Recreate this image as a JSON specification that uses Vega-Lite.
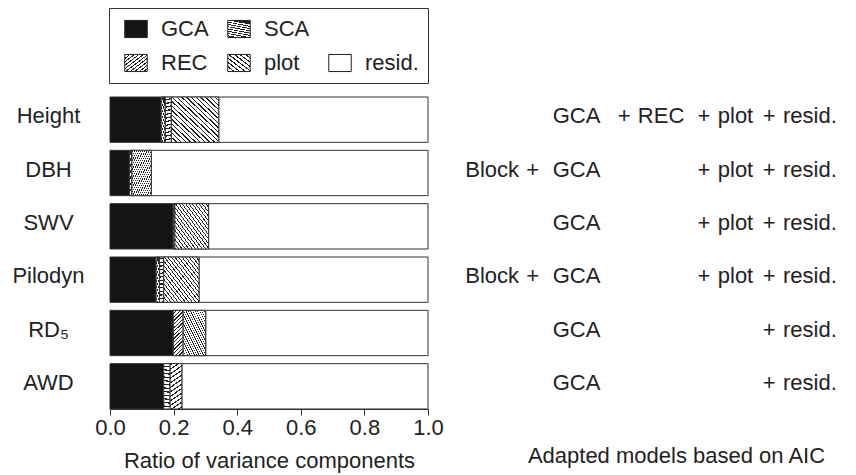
{
  "$schema": "https://vega.github.io/schema/vega-lite/v6.json",
  "padding": {"left": 11, "top": 7, "right": 5, "bottom": 5},
  "autosize": {"type": "pad"},
  "config": {
    "font": "Liberation Sans",
    "view": {"stroke": null},
    "axis": {"labelFontSize": 22, "titleFontSize": 22, "titleFontWeight": "normal", "labelColor": "#222", "titleColor": "#222", "domainColor": "#333", "tickColor": "#333", "grid": false}
  },
  "params": [
    {"name": "gSCAleg", "value": {"gradient": "linear", "x1": 0.25, "y1": 0, "x2": 0, "y2": 1, "stops": [
      {"offset": 0, "color": "#222"}, {"offset": 0.05, "color": "#222"}, {"offset": 0.05, "color": "#fff"}, {"offset": 0.125, "color": "#fff"},
      {"offset": 0.125, "color": "#222"}, {"offset": 0.175, "color": "#222"}, {"offset": 0.175, "color": "#fff"}, {"offset": 0.25, "color": "#fff"},
      {"offset": 0.25, "color": "#222"}, {"offset": 0.3, "color": "#222"}, {"offset": 0.3, "color": "#fff"}, {"offset": 0.375, "color": "#fff"},
      {"offset": 0.375, "color": "#222"}, {"offset": 0.425, "color": "#222"}, {"offset": 0.425, "color": "#fff"}, {"offset": 0.5, "color": "#fff"},
      {"offset": 0.5, "color": "#222"}, {"offset": 0.55, "color": "#222"}, {"offset": 0.55, "color": "#fff"}, {"offset": 0.625, "color": "#fff"},
      {"offset": 0.625, "color": "#222"}, {"offset": 0.675, "color": "#222"}, {"offset": 0.675, "color": "#fff"}, {"offset": 0.75, "color": "#fff"},
      {"offset": 0.75, "color": "#222"}, {"offset": 0.8, "color": "#222"}, {"offset": 0.8, "color": "#fff"}, {"offset": 0.875, "color": "#fff"},
      {"offset": 0.875, "color": "#222"}, {"offset": 0.925, "color": "#222"}, {"offset": 0.925, "color": "#fff"}, {"offset": 1, "color": "#fff"}
    ]}},
    {"name": "gRECleg", "value": {"gradient": "linear", "x1": 0, "y1": 0, "x2": 1, "y2": 1, "stops": [
      {"offset": 0, "color": "#222"}, {"offset": 0.035, "color": "#222"}, {"offset": 0.035, "color": "#fff"}, {"offset": 0.1, "color": "#fff"},
      {"offset": 0.1, "color": "#222"}, {"offset": 0.135, "color": "#222"}, {"offset": 0.135, "color": "#fff"}, {"offset": 0.2, "color": "#fff"},
      {"offset": 0.2, "color": "#222"}, {"offset": 0.235, "color": "#222"}, {"offset": 0.235, "color": "#fff"}, {"offset": 0.3, "color": "#fff"},
      {"offset": 0.3, "color": "#222"}, {"offset": 0.335, "color": "#222"}, {"offset": 0.335, "color": "#fff"}, {"offset": 0.4, "color": "#fff"},
      {"offset": 0.4, "color": "#222"}, {"offset": 0.435, "color": "#222"}, {"offset": 0.435, "color": "#fff"}, {"offset": 0.5, "color": "#fff"},
      {"offset": 0.5, "color": "#222"}, {"offset": 0.535, "color": "#222"}, {"offset": 0.535, "color": "#fff"}, {"offset": 0.6, "color": "#fff"},
      {"offset": 0.6, "color": "#222"}, {"offset": 0.635, "color": "#222"}, {"offset": 0.635, "color": "#fff"}, {"offset": 0.7, "color": "#fff"},
      {"offset": 0.7, "color": "#222"}, {"offset": 0.735, "color": "#222"}, {"offset": 0.735, "color": "#fff"}, {"offset": 0.8, "color": "#fff"},
      {"offset": 0.8, "color": "#222"}, {"offset": 0.835, "color": "#222"}, {"offset": 0.835, "color": "#fff"}, {"offset": 0.9, "color": "#fff"},
      {"offset": 0.9, "color": "#222"}, {"offset": 0.935, "color": "#222"}, {"offset": 0.935, "color": "#fff"}, {"offset": 1, "color": "#fff"}
    ]}},
    {"name": "gPlotLeg", "value": {"gradient": "linear", "x1": 0, "y1": 1, "x2": 1, "y2": 0, "stops": [
      {"offset": 0, "color": "#222"}, {"offset": 0.04, "color": "#222"}, {"offset": 0.04, "color": "#fff"}, {"offset": 0.125, "color": "#fff"},
      {"offset": 0.125, "color": "#222"}, {"offset": 0.165, "color": "#222"}, {"offset": 0.165, "color": "#fff"}, {"offset": 0.25, "color": "#fff"},
      {"offset": 0.25, "color": "#222"}, {"offset": 0.29, "color": "#222"}, {"offset": 0.29, "color": "#fff"}, {"offset": 0.375, "color": "#fff"},
      {"offset": 0.375, "color": "#222"}, {"offset": 0.415, "color": "#222"}, {"offset": 0.415, "color": "#fff"}, {"offset": 0.5, "color": "#fff"},
      {"offset": 0.5, "color": "#222"}, {"offset": 0.54, "color": "#222"}, {"offset": 0.54, "color": "#fff"}, {"offset": 0.625, "color": "#fff"},
      {"offset": 0.625, "color": "#222"}, {"offset": 0.665, "color": "#222"}, {"offset": 0.665, "color": "#fff"}, {"offset": 0.75, "color": "#fff"},
      {"offset": 0.75, "color": "#222"}, {"offset": 0.79, "color": "#222"}, {"offset": 0.79, "color": "#fff"}, {"offset": 0.875, "color": "#fff"},
      {"offset": 0.875, "color": "#222"}, {"offset": 0.915, "color": "#222"}, {"offset": 0.915, "color": "#fff"}, {"offset": 1, "color": "#fff"}
    ]}}
  ],
  "datasets": {
    "bars": [
      {"trait": "Height", "comp": "GCA", "ratio": 0.161},
      {"trait": "Height", "comp": "SCA", "ratio": 0.013},
      {"trait": "Height", "comp": "REC", "ratio": 0.019},
      {"trait": "Height", "comp": "plot", "ratio": 0.149},
      {"trait": "Height", "comp": "resid.", "ratio": 0.658},
      {"trait": "DBH", "comp": "GCA", "ratio": 0.061},
      {"trait": "DBH", "comp": "SCA", "ratio": 0.008},
      {"trait": "DBH", "comp": "plot", "ratio": 0.061},
      {"trait": "DBH", "comp": "resid.", "ratio": 0.87},
      {"trait": "SWV", "comp": "GCA", "ratio": 0.199},
      {"trait": "SWV", "comp": "SCA", "ratio": 0.005},
      {"trait": "SWV", "comp": "plot", "ratio": 0.106},
      {"trait": "SWV", "comp": "resid.", "ratio": 0.69},
      {"trait": "Pilodyn", "comp": "GCA", "ratio": 0.145},
      {"trait": "Pilodyn", "comp": "SCA", "ratio": 0.011},
      {"trait": "Pilodyn", "comp": "REC", "ratio": 0.013},
      {"trait": "Pilodyn", "comp": "plot", "ratio": 0.111},
      {"trait": "Pilodyn", "comp": "resid.", "ratio": 0.72},
      {"trait": "RD₅", "comp": "GCA", "ratio": 0.199},
      {"trait": "RD₅", "comp": "REC", "ratio": 0.031},
      {"trait": "RD₅", "comp": "plot", "ratio": 0.071},
      {"trait": "RD₅", "comp": "resid.", "ratio": 0.699},
      {"trait": "AWD", "comp": "GCA", "ratio": 0.169},
      {"trait": "AWD", "comp": "REC", "ratio": 0.02},
      {"trait": "AWD", "comp": "plot", "ratio": 0.037},
      {"trait": "AWD", "comp": "resid.", "ratio": 0.774}
    ],
    "models": [
      {"trait": "Height", "term": "GCA", "label": "GCA"},
      {"trait": "Height", "term": "REC", "label": "+\u2004REC"},
      {"trait": "Height", "term": "plot", "label": "+\u2004plot"},
      {"trait": "Height", "term": "resid.", "label": "+\u2004resid."},
      {"trait": "DBH", "term": "Block", "label": "Block\u2004+"},
      {"trait": "DBH", "term": "GCA", "label": "GCA"},
      {"trait": "DBH", "term": "plot", "label": "+\u2004plot"},
      {"trait": "DBH", "term": "resid.", "label": "+\u2004resid."},
      {"trait": "SWV", "term": "GCA", "label": "GCA"},
      {"trait": "SWV", "term": "plot", "label": "+\u2004plot"},
      {"trait": "SWV", "term": "resid.", "label": "+\u2004resid."},
      {"trait": "Pilodyn", "term": "Block", "label": "Block\u2004+"},
      {"trait": "Pilodyn", "term": "GCA", "label": "GCA"},
      {"trait": "Pilodyn", "term": "plot", "label": "+\u2004plot"},
      {"trait": "Pilodyn", "term": "resid.", "label": "+\u2004resid."},
      {"trait": "RD₅", "term": "GCA", "label": "GCA"},
      {"trait": "RD₅", "term": "resid.", "label": "+\u2004resid."},
      {"trait": "AWD", "term": "GCA", "label": "GCA"},
      {"trait": "AWD", "term": "resid.", "label": "+\u2004resid."}
    ]
  },
  "bounds": "flush",
  "spacing": 37,
  "hconcat": [
    {
      "width": 318,
      "height": 312,
      "data": {"name": "bars"},
      "transform": [{"stack": "ratio", "groupby": ["trait"], "as": ["x0", "x1"]}],
      "encoding": {
        "y": {
          "field": "trait", "type": "nominal",
          "sort": ["Height", "DBH", "SWV", "Pilodyn", "RD₅", "AWD"],
          "scale": {"paddingInner": 0.15, "paddingOuter": 0},
          "axis": {"domain": false, "ticks": false, "tickSize": 0, "labelAlign": "center", "labelPadding": 62, "labelOffset": -3.5, "title": null}
        },
        "x": {
          "field": "x0", "type": "quantitative",
          "scale": {"domain": [0, 1], "nice": false},
          "axis": {"values": [0, 0.2, 0.4, 0.6, 0.8, 1], "format": ".1f", "labelFlush": false, "tickSize": 6, "titlePadding": 12, "title": "Ratio of variance components"}
        },
        "x2": {"field": "x1"}
      },
      "layer": [
        {
          "mark": {"type": "bar", "stroke": "#333", "strokeWidth": 1},
          "encoding": {
            "fill": {
              "field": "comp", "type": "nominal",
              "scale": {
                "domain": ["GCA", "SCA", " ", "REC", "plot", "resid."],
                "range": ["#141414", {"expr": "gSCAleg"}, "transparent", {"expr": "gRECleg"}, {"expr": "gPlotLeg"}, "#ffffff"]
              },
              "legend": {
                "title": null, "orient": "none", "legendX": -1, "legendY": -89,
                "columns": 3, "direction": "horizontal", "padding": 9,
                "symbolOffset": 6, "symbolType": "M-1,-0.76H1V0.76H-1Z", "symbolSize": 506,
                "symbolStrokeColor": "#222", "symbolStrokeWidth": 1,
                "labelFontSize": 22, "labelOffset": 13, "labelColor": "#222",
                "columnPadding": 12, "rowPadding": 11,
                "strokeColor": "#333", "fillColor": "white",
                "encode": {"symbols": {"update": {
                  "stroke": {"value": "#222"},
                  "strokeWidth": {"value": 1},
                  "strokeOpacity": {"signal": "datum.value === ' ' ? 0 : 1"}
                }}}
              }
            }
          }
        },
        {
          "transform": [{"filter": "datum.comp === 'SCA'"}],
          "mark": {"type": "bar", "stroke": "#333", "strokeWidth": 1, "fill": {"gradient": "linear", "x1": 0.25, "y1": 0, "x2": 0, "y2": 1, "stops": [
            {"offset": 0, "color": "#222"}, {"offset": 0.05, "color": "#222"}, {"offset": 0.05, "color": "#fff"}, {"offset": 0.125, "color": "#fff"},
            {"offset": 0.125, "color": "#222"}, {"offset": 0.175, "color": "#222"}, {"offset": 0.175, "color": "#fff"}, {"offset": 0.25, "color": "#fff"},
            {"offset": 0.25, "color": "#222"}, {"offset": 0.3, "color": "#222"}, {"offset": 0.3, "color": "#fff"}, {"offset": 0.375, "color": "#fff"},
            {"offset": 0.375, "color": "#222"}, {"offset": 0.425, "color": "#222"}, {"offset": 0.425, "color": "#fff"}, {"offset": 0.5, "color": "#fff"},
            {"offset": 0.5, "color": "#222"}, {"offset": 0.55, "color": "#222"}, {"offset": 0.55, "color": "#fff"}, {"offset": 0.625, "color": "#fff"},
            {"offset": 0.625, "color": "#222"}, {"offset": 0.675, "color": "#222"}, {"offset": 0.675, "color": "#fff"}, {"offset": 0.75, "color": "#fff"},
            {"offset": 0.75, "color": "#222"}, {"offset": 0.8, "color": "#222"}, {"offset": 0.8, "color": "#fff"}, {"offset": 0.875, "color": "#fff"},
            {"offset": 0.875, "color": "#222"}, {"offset": 0.925, "color": "#222"}, {"offset": 0.925, "color": "#fff"}, {"offset": 1, "color": "#fff"}
          ]}}
        },
        {
          "transform": [{"filter": "datum.comp === 'REC'"}],
          "mark": {"type": "bar", "stroke": "#333", "strokeWidth": 1, "fill": {"gradient": "linear", "x1": 0, "y1": 0, "x2": 1, "y2": 1, "stops": [
            {"offset": 0, "color": "#222"}, {"offset": 0.014, "color": "#222"}, {"offset": 0.014, "color": "#fff"}, {"offset": 0.04, "color": "#fff"},
            {"offset": 0.04, "color": "#222"}, {"offset": 0.054, "color": "#222"}, {"offset": 0.054, "color": "#fff"}, {"offset": 0.08, "color": "#fff"},
            {"offset": 0.08, "color": "#222"}, {"offset": 0.094, "color": "#222"}, {"offset": 0.094, "color": "#fff"}, {"offset": 0.12, "color": "#fff"},
            {"offset": 0.12, "color": "#222"}, {"offset": 0.134, "color": "#222"}, {"offset": 0.134, "color": "#fff"}, {"offset": 0.16, "color": "#fff"},
            {"offset": 0.16, "color": "#222"}, {"offset": 0.174, "color": "#222"}, {"offset": 0.174, "color": "#fff"}, {"offset": 0.2, "color": "#fff"},
            {"offset": 0.2, "color": "#222"}, {"offset": 0.214, "color": "#222"}, {"offset": 0.214, "color": "#fff"}, {"offset": 0.24, "color": "#fff"},
            {"offset": 0.24, "color": "#222"}, {"offset": 0.254, "color": "#222"}, {"offset": 0.254, "color": "#fff"}, {"offset": 0.28, "color": "#fff"},
            {"offset": 0.28, "color": "#222"}, {"offset": 0.294, "color": "#222"}, {"offset": 0.294, "color": "#fff"}, {"offset": 0.32, "color": "#fff"},
            {"offset": 0.32, "color": "#222"}, {"offset": 0.334, "color": "#222"}, {"offset": 0.334, "color": "#fff"}, {"offset": 0.36, "color": "#fff"},
            {"offset": 0.36, "color": "#222"}, {"offset": 0.374, "color": "#222"}, {"offset": 0.374, "color": "#fff"}, {"offset": 0.4, "color": "#fff"},
            {"offset": 0.4, "color": "#222"}, {"offset": 0.414, "color": "#222"}, {"offset": 0.414, "color": "#fff"}, {"offset": 0.44, "color": "#fff"},
            {"offset": 0.44, "color": "#222"}, {"offset": 0.454, "color": "#222"}, {"offset": 0.454, "color": "#fff"}, {"offset": 0.48, "color": "#fff"},
            {"offset": 0.48, "color": "#222"}, {"offset": 0.494, "color": "#222"}, {"offset": 0.494, "color": "#fff"}, {"offset": 0.52, "color": "#fff"},
            {"offset": 0.52, "color": "#222"}, {"offset": 0.534, "color": "#222"}, {"offset": 0.534, "color": "#fff"}, {"offset": 0.56, "color": "#fff"},
            {"offset": 0.56, "color": "#222"}, {"offset": 0.574, "color": "#222"}, {"offset": 0.574, "color": "#fff"}, {"offset": 0.6, "color": "#fff"},
            {"offset": 0.6, "color": "#222"}, {"offset": 0.614, "color": "#222"}, {"offset": 0.614, "color": "#fff"}, {"offset": 0.64, "color": "#fff"},
            {"offset": 0.64, "color": "#222"}, {"offset": 0.654, "color": "#222"}, {"offset": 0.654, "color": "#fff"}, {"offset": 0.68, "color": "#fff"},
            {"offset": 0.68, "color": "#222"}, {"offset": 0.694, "color": "#222"}, {"offset": 0.694, "color": "#fff"}, {"offset": 0.72, "color": "#fff"},
            {"offset": 0.72, "color": "#222"}, {"offset": 0.734, "color": "#222"}, {"offset": 0.734, "color": "#fff"}, {"offset": 0.76, "color": "#fff"},
            {"offset": 0.76, "color": "#222"}, {"offset": 0.774, "color": "#222"}, {"offset": 0.774, "color": "#fff"}, {"offset": 0.8, "color": "#fff"},
            {"offset": 0.8, "color": "#222"}, {"offset": 0.814, "color": "#222"}, {"offset": 0.814, "color": "#fff"}, {"offset": 0.84, "color": "#fff"},
            {"offset": 0.84, "color": "#222"}, {"offset": 0.854, "color": "#222"}, {"offset": 0.854, "color": "#fff"}, {"offset": 0.88, "color": "#fff"},
            {"offset": 0.88, "color": "#222"}, {"offset": 0.894, "color": "#222"}, {"offset": 0.894, "color": "#fff"}, {"offset": 0.92, "color": "#fff"},
            {"offset": 0.92, "color": "#222"}, {"offset": 0.934, "color": "#222"}, {"offset": 0.934, "color": "#fff"}, {"offset": 0.96, "color": "#fff"},
            {"offset": 0.96, "color": "#222"}, {"offset": 0.974, "color": "#222"}, {"offset": 0.974, "color": "#fff"}, {"offset": 1, "color": "#fff"}
          ]}}
        },
        {
          "transform": [{"filter": "datum.comp === 'plot'"}],
          "mark": {"type": "bar", "stroke": "#333", "strokeWidth": 1, "fill": {"gradient": "linear", "x1": 0, "y1": 1, "x2": 1, "y2": 0, "stops": [
            {"offset": 0, "color": "#222"}, {"offset": 0.015, "color": "#222"}, {"offset": 0.015, "color": "#fff"}, {"offset": 0.05, "color": "#fff"},
            {"offset": 0.05, "color": "#222"}, {"offset": 0.065, "color": "#222"}, {"offset": 0.065, "color": "#fff"}, {"offset": 0.1, "color": "#fff"},
            {"offset": 0.1, "color": "#222"}, {"offset": 0.115, "color": "#222"}, {"offset": 0.115, "color": "#fff"}, {"offset": 0.15, "color": "#fff"},
            {"offset": 0.15, "color": "#222"}, {"offset": 0.165, "color": "#222"}, {"offset": 0.165, "color": "#fff"}, {"offset": 0.2, "color": "#fff"},
            {"offset": 0.2, "color": "#222"}, {"offset": 0.215, "color": "#222"}, {"offset": 0.215, "color": "#fff"}, {"offset": 0.25, "color": "#fff"},
            {"offset": 0.25, "color": "#222"}, {"offset": 0.265, "color": "#222"}, {"offset": 0.265, "color": "#fff"}, {"offset": 0.3, "color": "#fff"},
            {"offset": 0.3, "color": "#222"}, {"offset": 0.315, "color": "#222"}, {"offset": 0.315, "color": "#fff"}, {"offset": 0.35, "color": "#fff"},
            {"offset": 0.35, "color": "#222"}, {"offset": 0.365, "color": "#222"}, {"offset": 0.365, "color": "#fff"}, {"offset": 0.4, "color": "#fff"},
            {"offset": 0.4, "color": "#222"}, {"offset": 0.415, "color": "#222"}, {"offset": 0.415, "color": "#fff"}, {"offset": 0.45, "color": "#fff"},
            {"offset": 0.45, "color": "#222"}, {"offset": 0.465, "color": "#222"}, {"offset": 0.465, "color": "#fff"}, {"offset": 0.5, "color": "#fff"},
            {"offset": 0.5, "color": "#222"}, {"offset": 0.515, "color": "#222"}, {"offset": 0.515, "color": "#fff"}, {"offset": 0.55, "color": "#fff"},
            {"offset": 0.55, "color": "#222"}, {"offset": 0.565, "color": "#222"}, {"offset": 0.565, "color": "#fff"}, {"offset": 0.6, "color": "#fff"},
            {"offset": 0.6, "color": "#222"}, {"offset": 0.615, "color": "#222"}, {"offset": 0.615, "color": "#fff"}, {"offset": 0.65, "color": "#fff"},
            {"offset": 0.65, "color": "#222"}, {"offset": 0.665, "color": "#222"}, {"offset": 0.665, "color": "#fff"}, {"offset": 0.7, "color": "#fff"},
            {"offset": 0.7, "color": "#222"}, {"offset": 0.715, "color": "#222"}, {"offset": 0.715, "color": "#fff"}, {"offset": 0.75, "color": "#fff"},
            {"offset": 0.75, "color": "#222"}, {"offset": 0.765, "color": "#222"}, {"offset": 0.765, "color": "#fff"}, {"offset": 0.8, "color": "#fff"},
            {"offset": 0.8, "color": "#222"}, {"offset": 0.815, "color": "#222"}, {"offset": 0.815, "color": "#fff"}, {"offset": 0.85, "color": "#fff"},
            {"offset": 0.85, "color": "#222"}, {"offset": 0.865, "color": "#222"}, {"offset": 0.865, "color": "#fff"}, {"offset": 0.9, "color": "#fff"},
            {"offset": 0.9, "color": "#222"}, {"offset": 0.915, "color": "#222"}, {"offset": 0.915, "color": "#fff"}, {"offset": 0.95, "color": "#fff"},
            {"offset": 0.95, "color": "#222"}, {"offset": 0.965, "color": "#222"}, {"offset": 0.965, "color": "#fff"}, {"offset": 1, "color": "#fff"}
          ]}}
        }
      ]
    },
    {
      "width": 372,
      "height": 312,
      "data": {"name": "models"},
      "mark": {"type": "text", "fontSize": 22, "color": "#222", "align": "center", "baseline": "middle", "dy": -3.5},
      "encoding": {
        "y": {
          "field": "trait", "type": "nominal",
          "sort": ["Height", "DBH", "SWV", "Pilodyn", "RD₅", "AWD"],
          "scale": {"type": "band", "paddingInner": 0.15, "paddingOuter": 0},
          "axis": null
        },
        "x": {
          "field": "term", "type": "nominal",
          "scale": {"type": "point", "padding": 0.5, "domain": ["Block", "GCA", "REC", "plot", "resid."]},
          "axis": {"domain": false, "ticks": false, "labels": false, "titlePadding": 36, "title": "Adapted models based on AIC", "titleX": 211}
        },
        "text": {"field": "label"}
      }
    }
  ]
}
